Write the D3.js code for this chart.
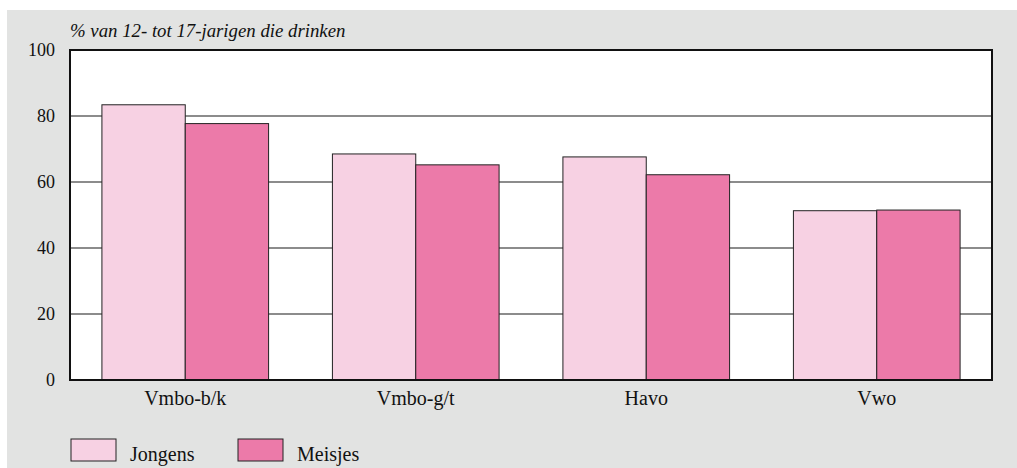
<!DOCTYPE html>
<meta charset="utf-8">
<style>

body {
  margin: 0;
  background: #fff;
}

svg {
  display: block;
  font-family: "Liberation Serif", "DejaVu Serif", serif;
}

.bar {
  stroke: #222;
  stroke-width: 1;
}

.grid line {
  stroke: #666;
  stroke-width: 1.5;
}

</style>
<body>
<script src="https://cdn.jsdelivr.net/npm/d3@7"></script>
<script>

var categories = ["Vmbo-b/k", "Vmbo-g/t", "Havo", "Vwo"],
    series = ["Jongens", "Meisjes"],
    jongens = [83.4, 68.5, 67.6, 51.3],
    meisjes = [77.7, 65.2, 62.2, 51.5],
    yTicks = [0, 20, 40, 60, 80, 100];

var colors = {Jongens: "#f7d1e3", Meisjes: "#ec7aa9"};

var width = 1017,
    height = 468,
    plotLeft = 70,
    plotRight = 992,
    plotTop = 50,
    plotBottom = 380,
    serif = "'Liberation Serif', 'DejaVu Serif', serif";

var svg = d3.select("body").append("svg")
    .attr("width", width)
    .attr("height", height);

// grey panel
svg.append("rect")
    .attr("x", 7)
    .attr("y", 10)
    .attr("width", width - 7)
    .attr("height", height - 10)
    .attr("fill", "#e2e3e2");

svg.append("rect")
    .attr("x", plotLeft)
    .attr("y", plotTop)
    .attr("width", plotRight - plotLeft)
    .attr("height", plotBottom - plotTop)
    .attr("fill", "#fff");

var x0 = d3.scaleBand()
    .domain(categories)
    .range([plotLeft, plotRight])
    .padding(0);

var x1 = d3.scaleBand()
    .domain(series)
    .range([0, x0.bandwidth()])
    .paddingInner(0)
    .paddingOuter(0.383);

var y = d3.scaleLinear()
    .domain([0, 100])
    .range([plotBottom, plotTop]);

svg.append("g")
    .attr("class", "grid")
  .selectAll("line")
    .data(yTicks.slice(1, -1))
  .enter().append("line")
    .attr("x1", plotLeft)
    .attr("x2", plotRight)
    .attr("y1", function(d) { return y(d); })
    .attr("y2", function(d) { return y(d); });

var rows = categories.map(function(c, i) {
  return {category: c, values: [
    {key: "Jongens", value: jongens[i]},
    {key: "Meisjes", value: meisjes[i]}
  ]};
});

svg.append("g").selectAll("g")
    .data(rows)
  .enter().append("g")
    .attr("transform", function(d) { return "translate(" + x0(d.category) + ",0)"; })
  .selectAll("rect")
    .data(function(d) { return d.values; })
  .enter().append("rect")
    .attr("class", "bar")
    .attr("x", function(d) { return x1(d.key); })
    .attr("width", x1.bandwidth())
    .attr("y", function(d) { return y(d.value); })
    .attr("height", function(d) { return y(0) - y(d.value); })
    .attr("fill", function(d) { return colors[d.key]; });

// frame
svg.append("rect")
    .attr("x", plotLeft)
    .attr("y", plotTop)
    .attr("width", plotRight - plotLeft)
    .attr("height", plotBottom - plotTop)
    .attr("fill", "none")
    .attr("stroke", "#111")
    .attr("stroke-width", 2);

var yAxis = svg.append("g")
    .attr("transform", "translate(" + plotLeft + ",0)")
    .call(d3.axisLeft(y).tickValues(yTicks).tickSize(0).tickPadding(15));

var xAxis = svg.append("g")
    .attr("transform", "translate(0," + plotBottom + ")")
    .call(d3.axisBottom(x0).tickSize(0).tickPadding(11));

yAxis.attr("font-size", 18);
xAxis.attr("font-size", 20);

[yAxis, xAxis].forEach(function(g) {
  g.attr("font-family", serif);
  g.select(".domain").remove();
  g.selectAll("text").attr("fill", "#111");
});

svg.append("text")
    .attr("x", plotLeft)
    .attr("y", 37)
    .attr("fill", "#111")
    .attr("font-family", serif)
    .attr("font-size", 18.8)
    .attr("font-style", "italic")
    .text("% van 12- tot 17-jarigen die drinken");

var legend = svg.append("g").selectAll("g")
    .data(series)
  .enter().append("g")
    .attr("transform", function(d, i) { return "translate(" + (71 + i * 167) + ",439)"; });

legend.append("rect")
    .attr("width", 45)
    .attr("height", 22)
    .attr("fill", function(d) { return colors[d]; })
    .attr("stroke", "#222")
    .attr("stroke-width", 1);

legend.append("text")
    .attr("x", 59)
    .attr("y", 22)
    .attr("fill", "#111")
    .attr("font-family", serif)
    .attr("font-size", 20)
    .text(function(d) { return d; });

</script>
